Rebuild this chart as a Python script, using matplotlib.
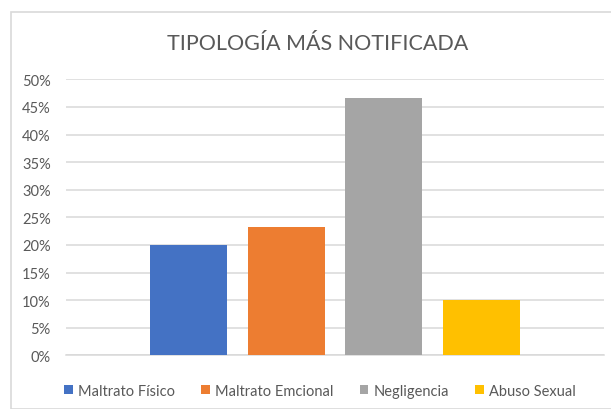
import matplotlib
matplotlib.use("Agg")
import matplotlib.pyplot as plt
from matplotlib.patches import Rectangle
from matplotlib.ticker import PercentFormatter

categories = ["Maltrato Físico", "Maltrato Emcional", "Negligencia", "Abuso Sexual"]
values = [0.20, 0.2333, 0.4667, 0.10]
colors = ["#4472C4", "#ED7D31", "#A5A5A5", "#FFC000"]
yticks = [0, 0.05, 0.10, 0.15, 0.20, 0.25, 0.30, 0.35, 0.40, 0.45, 0.50]
title = "TIPOLOGÍA MÁS NOTIFICADA"

plt.rcParams['font.family'] = ['Lato', 'DejaVu Sans']

W, H = 611, 410
fig = plt.figure(figsize=(W / 100, H / 100), dpi=100)
fig.patch.set_facecolor("white")

# chart border
fig.patches.append(Rectangle((11 / W, 0), 1.2, (H - 13) / H, transform=fig.transFigure,
                             fill=False, edgecolor="#D9D9D9", linewidth=1.2, zorder=0))

ax = fig.add_axes([66 / W, (H - 356.3) / H, (604 - 66) / W, (356.3 - 80.3) / H])
x = list(range(len(categories)))
for xi, v, c, lab in zip(x, values, colors, categories):
    ax.bar(xi, v, width=0.787, color=c, label=lab, zorder=3)

ax.set_xlim(-1.26, 4.26)
ax.set_ylim(0, 0.5)
ax.set_yticks(yticks)
ax.yaxis.set_major_formatter(PercentFormatter(1.0, decimals=0))
ax.set_xticks([])
ax.grid(axis="y", color="#D9D9D9", linewidth=1.1, zorder=0)
for s in ["top", "right", "left"]:
    ax.spines[s].set_visible(False)
ax.spines["bottom"].set_color("#D9D9D9")
ax.spines["bottom"].set_linewidth(1.1)
ax.tick_params(axis="y", length=0, pad=11, labelsize=10.5, labelcolor="#595959")

fig.text(318 / W, 1 - 44 / H, title, ha="center", va="center", fontsize=15.5,
         color="#595959", fontweight="normal")

fig.legend(loc="center", bbox_to_anchor=(320 / W, 1 - 392 / H), ncol=4, frameon=False,
           handlelength=0.6, handleheight=0.6, handletextpad=0.35, columnspacing=1.8,
           fontsize=10.5, labelcolor="#595959")

fig.savefig("out.png", dpi=100)
